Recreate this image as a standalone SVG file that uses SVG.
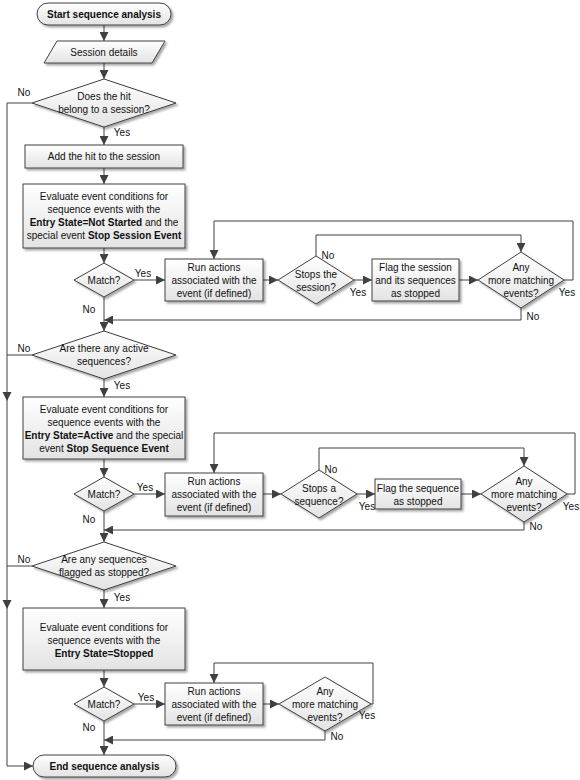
<svg xmlns="http://www.w3.org/2000/svg" width="580" height="780" viewBox="0 0 580 780">
<defs>
<linearGradient id="g" x1="0" y1="0" x2="0" y2="1"><stop offset="0" stop-color="#ffffff"/><stop offset="1" stop-color="#e3e3e3"/></linearGradient>
<filter id="sh" x="-10%" y="-10%" width="130%" height="140%"><feDropShadow dx="2" dy="2" stdDeviation="1.2" flood-color="#000" flood-opacity="0.35"/></filter>
<marker id="a" viewBox="0 0 10 10" refX="10" refY="5" markerWidth="9" markerHeight="9" markerUnits="userSpaceOnUse" orient="auto"><path d="M0,0 L10,5 L0,10 z" fill="#404040"/></marker>
</defs>
<style>
.n{fill:url(#g);stroke:#404040;stroke-width:1;filter:url(#sh)}
.ln{fill:none;stroke:#404040;stroke-width:1}
.ar{marker-end:url(#a)}
text{font-family:'Liberation Sans',Arial,sans-serif;font-size:10px;fill:#111}
.c{text-anchor:middle}
.b{font-weight:bold}
</style>
<rect width="580" height="780" fill="#fff"/>

<g id="connectors">
<path class="ln ar" d="M104,25 V41"/>
<path class="ln ar" d="M104,63 V79"/>
<path class="ln ar" d="M104,127 V145"/>
<path class="ln ar" d="M32,103 H7 V766 H33"/>
<path class="ln ar" d="M104,168 V184"/>
<path class="ln ar" d="M104,248 V263"/>
<path class="ln ar" d="M134,280 H165"/>
<path class="ln ar" d="M263,280 H278"/>
<path class="ln ar" d="M354,280 H372"/>
<path class="ln ar" d="M459,280 H478"/>
<path class="ln ar" d="M316,256 V235 H521 V252"/>
<path class="ln ar" d="M564,280 H573 V221 H214 V259"/>
<path class="ln ar" d="M521,308 V320 H104"/>
<path class="ln ar" d="M104,297 V331"/>
<path class="ln ar" d="M104,379 V397"/>
<path class="ln" d="M32,355 H7"/>
<path class="ln ar" d="M104,459 V477"/>
<path class="ln ar" d="M134,494 H165"/>
<path class="ln ar" d="M263,494 H281"/>
<path class="ln ar" d="M357,494 H375"/>
<path class="ln ar" d="M461,494 H481"/>
<path class="ln ar" d="M319,470 V448 H524 V466"/>
<path class="ln ar" d="M567,494 H575 V433 H214 V473"/>
<path class="ln ar" d="M524,522 V530 H104"/>
<path class="ln ar" d="M104,511 V542"/>
<path class="ln ar" d="M104,590 V608"/>
<path class="ln" d="M32,566 H7"/>
<path class="ln ar" d="M104,670 V687"/>
<path class="ln ar" d="M134,704 H165"/>
<path class="ln ar" d="M263,704 H279"/>
<path class="ln ar" d="M371,704 H373 V663 H214 V683"/>
<path class="ln ar" d="M325,731 V740 H104"/>
<path class="ln ar" d="M104,721 V755"/>
<path d="M2.5,392 L11.5,392 L7,401 z" fill="#404040"/>
<path d="M2.5,600 L11.5,600 L7,609 z" fill="#404040"/>
<text x="24" y="96" class="c">No</text>
<text x="122" y="136" class="c">Yes</text>
<text x="143" y="277" class="c">Yes</text>
<text x="89" y="313" class="c">No</text>
<text x="328" y="259" class="c">No</text>
<text x="358" y="296" class="c">Yes</text>
<text x="567" y="296" class="c">Yes</text>
<text x="533" y="320" class="c">No</text>
<text x="24" y="352" class="c">No</text>
<text x="122" y="389" class="c">Yes</text>
<text x="145" y="491" class="c">Yes</text>
<text x="89" y="523" class="c">No</text>
<text x="331" y="473" class="c">No</text>
<text x="367" y="510" class="c">Yes</text>
<text x="571" y="510" class="c">Yes</text>
<text x="536" y="530" class="c">No</text>
<text x="24" y="563" class="c">No</text>
<text x="122" y="601" class="c">Yes</text>
<text x="146" y="701" class="c">Yes</text>
<text x="89" y="731" class="c">No</text>
<text x="367" y="719" class="c">Yes</text>
<text x="337" y="740" class="c">No</text>
</g>

<g id="start"><rect class="n" x="37" y="3" width="134" height="22" rx="11"/><text x="104" y="17.5" class="c b">Start sequence analysis</text></g>
<g id="session"><polygon class="n" points="57,41 165,41 152,63 44,63"/><text x="104" y="55.5" class="c">Session details</text></g>
<g id="d1"><polygon class="n" points="104,79 176,103 104,127 32,103"/><text x="104" y="100" class="c">Does the hit</text><text x="104" y="113" class="c">belong to a session?</text></g>
<g id="add"><rect class="n" x="25" y="145" width="158" height="23"/><text x="104" y="160" class="c">Add the hit to the session</text></g>
<g id="eval1"><rect class="n" x="23" y="184" width="162" height="64"/>
<text x="104" y="199.5" class="c">Evaluate event conditions for</text>
<text x="104" y="212.5" class="c">sequence events with the</text>
<text x="104" y="225.5" class="c"><tspan class="b">Entry State=Not Started</tspan> and the</text>
<text x="104" y="238.5" class="c">special event <tspan class="b">Stop Session Event</tspan></text></g>
<g id="match1"><polygon class="n" points="104,263 134,280 104,297 74,280"/><text x="104" y="283.5" class="c">Match?</text></g>
<g id="run1"><rect class="n" x="165" y="259" width="98" height="42"/><text x="214" y="270.5" class="c">Run actions</text><text x="214" y="283.5" class="c">associated with the</text><text x="214" y="296.5" class="c">event (if defined)</text></g>
<g id="stops1"><polygon class="n" points="316,256 354,280 316,304 278,280"/><text x="316" y="277.5" class="c">Stops the</text><text x="316" y="290.5" class="c">session?</text></g>
<g id="flag1"><rect class="n" x="372" y="259" width="87" height="42"/><text x="415.5" y="270.5" class="c">Flag the session</text><text x="415.5" y="283.5" class="c">and its sequences</text><text x="415.5" y="296.5" class="c">as stopped</text></g>
<g id="any1"><polygon class="n" points="521,252 564,280 521,308 478,280"/><text x="521" y="270.5" class="c">Any</text><text x="521" y="283.5" class="c">more matching</text><text x="521" y="296.5" class="c">events?</text></g>

<g id="d2"><polygon class="n" points="104,331 176,355 104,379 32,355"/><text x="104" y="352" class="c">Are there any active</text><text x="104" y="365" class="c">sequences?</text></g>
<g id="eval2"><rect class="n" x="23" y="397" width="162" height="62"/>
<text x="104" y="412.5" class="c">Evaluate event conditions for</text>
<text x="104" y="425.5" class="c">sequence events with the</text>
<text x="104" y="438.5" class="c"><tspan class="b">Entry State=Active</tspan> and the special</text>
<text x="104" y="451.5" class="c">event <tspan class="b">Stop Sequence Event</tspan></text></g>
<g id="match2"><polygon class="n" points="104,477 134,494 104,511 74,494"/><text x="104" y="497.5" class="c">Match?</text></g>
<g id="run2"><rect class="n" x="165" y="473" width="98" height="43"/><text x="214" y="484.5" class="c">Run actions</text><text x="214" y="497.5" class="c">associated with the</text><text x="214" y="510.5" class="c">event (if defined)</text></g>
<g id="stops2"><polygon class="n" points="319,470 357,494 319,518 281,494"/><text x="319" y="491.5" class="c">Stops a</text><text x="319" y="504.5" class="c">sequence?</text></g>
<g id="flag2"><rect class="n" x="375" y="479" width="86" height="30"/><text x="418" y="491.5" class="c">Flag the sequence</text><text x="418" y="504.5" class="c">as stopped</text></g>
<g id="any2"><polygon class="n" points="524,466 567,494 524,522 481,494"/><text x="524" y="484.5" class="c">Any</text><text x="524" y="497.5" class="c">more matching</text><text x="524" y="510.5" class="c">events?</text></g>

<g id="d3"><polygon class="n" points="104,542 176,566 104,590 32,566"/><text x="104" y="563" class="c">Are any sequences</text><text x="104" y="576" class="c">flagged as stopped?</text></g>
<g id="eval3"><rect class="n" x="23" y="608" width="162" height="62"/>
<text x="104" y="630.5" class="c">Evaluate event conditions for</text>
<text x="104" y="643.5" class="c">sequence events with the</text>
<text x="104" y="656.5" class="c b">Entry State=Stopped</text></g>
<g id="match3"><polygon class="n" points="104,687 134,704 104,721 74,704"/><text x="104" y="707.5" class="c">Match?</text></g>
<g id="run3"><rect class="n" x="165" y="683" width="98" height="42"/><text x="214" y="694.5" class="c">Run actions</text><text x="214" y="707.5" class="c">associated with the</text><text x="214" y="720.5" class="c">event (if defined)</text></g>
<g id="any3"><polygon class="n" points="325,677 371,704 325,731 279,704"/><text x="325" y="694.5" class="c">Any</text><text x="325" y="707.5" class="c">more matching</text><text x="325" y="720.5" class="c">events?</text></g>
<g id="end"><rect class="n" x="33" y="755" width="143" height="22" rx="11"/><text x="104.5" y="769.5" class="c b">End sequence analysis</text></g>
</svg>
